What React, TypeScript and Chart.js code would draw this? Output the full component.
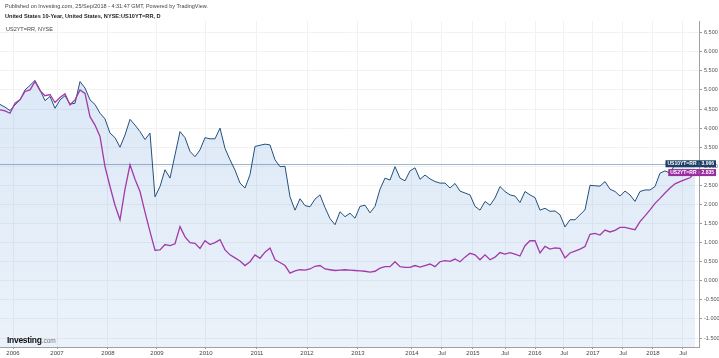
import React, { useEffect, useRef } from "react";
import { Chart, registerables } from "chart.js";

Chart.register(...registerables);

// Bar index sampling (one sample per bar step), values in percent
const us10Values = [
  4.62, 4.55, 4.46, 4.61, 4.74, 5.0, 5.12, 5.25, 5.0, 4.72,
  4.83, 4.52, 4.74, 4.85, 4.63, 4.65, 5.22, 5.05, 4.74, 4.62,
  4.39, 4.24, 3.87, 3.75, 3.5, 3.82, 4.23, 4.08, 3.91, 3.7,
  3.87, 2.2, 2.47, 2.91, 2.69, 3.3, 3.91, 3.75, 3.39, 3.25,
  3.43, 3.75, 3.72, 3.72, 4.0, 3.47, 3.17, 2.9, 2.56, 2.43,
  2.78, 3.52, 3.55, 3.58, 3.56, 3.17, 2.99, 3.0, 2.2, 1.85,
  2.15, 1.97, 1.94, 2.14, 2.25, 1.92, 1.63, 1.47, 1.81, 1.68,
  1.77, 1.64, 1.95, 1.98, 1.78, 1.95, 2.4, 2.69, 2.64, 2.99,
  2.69, 2.62, 2.88, 2.96, 2.66, 2.77, 2.67, 2.6, 2.56, 2.56,
  2.43, 2.55, 2.35, 2.3, 2.25, 1.95, 1.85, 2.08, 1.98, 2.17,
  2.47, 2.34, 2.25, 2.22, 2.05, 2.34, 2.25, 2.18, 1.85, 1.9,
  1.82, 1.83, 1.73, 1.41, 1.6, 1.6, 1.73, 1.86, 2.5, 2.49,
  2.48, 2.6, 2.4, 2.34, 2.22, 2.35, 2.25, 2.08, 2.34, 2.38,
  2.38, 2.47, 2.82, 2.88, 2.82, 3.05, 3.0, 3.03, 3.03, 3.066,
];

const us2Values = [
  4.48, 4.45, 4.39, 4.65, 4.74, 4.96, 5.0, 5.22, 4.98, 4.85,
  4.88, 4.67, 4.8, 4.9, 4.61, 4.74, 5.0, 4.91, 4.3, 4.08,
  3.78, 2.99, 2.47, 1.98, 1.6, 2.4, 3.04, 2.66, 2.34, 1.8,
  1.29, 0.8, 0.81, 0.95, 0.92, 0.97, 1.42, 1.15, 1.0, 0.98,
  0.85, 1.05, 0.95, 1.0, 1.08, 0.81, 0.68, 0.6, 0.52, 0.4,
  0.5, 0.68, 0.59, 0.75, 0.86, 0.55, 0.48, 0.4, 0.2, 0.26,
  0.29, 0.28, 0.31, 0.38, 0.4, 0.31, 0.29, 0.27, 0.28, 0.29,
  0.28, 0.27, 0.26, 0.25, 0.23, 0.25, 0.33, 0.37, 0.37, 0.5,
  0.37, 0.35, 0.35, 0.4, 0.36, 0.4, 0.44, 0.37, 0.5, 0.53,
  0.51, 0.57, 0.5, 0.62, 0.72, 0.68, 0.55, 0.68, 0.55, 0.62,
  0.74, 0.7, 0.74, 0.7, 0.65, 0.92, 1.05, 1.05, 0.73, 0.9,
  0.83, 0.86, 0.85, 0.6, 0.73, 0.78, 0.83, 0.9, 1.22, 1.24,
  1.2, 1.33, 1.28, 1.32, 1.4, 1.4, 1.37, 1.34, 1.55, 1.7,
  1.86, 2.03, 2.16, 2.3, 2.43, 2.54, 2.6, 2.65, 2.7, 2.835,
];

const xTickBars = [2.6, 11.4, 21.6, 31.4, 41.2, 51.4, 61.4, 71.6, 82.4, 88.4, 94.6, 101, 107, 112.8, 118.6, 124.6, 130.6, 136.6];
const xTickLabels = ["2006", "2007", "2008", "2009", "2010", "2011", "2012", "2013", "2014", "Jul", "2015", "Jul", "2016", "Jul", "2017", "Jul", "2018", "Jul"];
const yTickValues = [-1.5, -1, -0.5, 0, 0.5, 1, 1.5, 2, 2.5, 3, 3.5, 4, 4.5, 5, 5.5, 6, 6.5];

const US10_NAME = "US10YT=RR";
const US2_NAME = "US2YT=RR";
const US10_COLOR = "#23507d";
const US2_COLOR = "#a23aa8";

const FONT = '"Liberation Sans", Arial, sans-serif';

export default function App() {
  const canvasRef = useRef<HTMLCanvasElement | null>(null);

  useEffect(() => {
    if (!canvasRef.current) return;

    const lastLinePlugin = {
      id: "lastLine",
      beforeDatasetsDraw(chart: any) {
        const { ctx, chartArea, scales } = chart;
        const y = Math.round(scales.y.getPixelForValue(us10Values[us10Values.length - 1])) + 0.5;
        ctx.save();
        ctx.strokeStyle = "#9fb5cb";
        ctx.lineWidth = 1;
        ctx.beginPath();
        ctx.moveTo(chartArea.left, y);
        ctx.lineTo(chartArea.right, y);
        ctx.stroke();
        ctx.restore();
      },
    };

    const labelPlugin = {
      id: "lastLabels",
      afterDraw(chart: any) {
        const { ctx, scales } = chart;
        const items = [
          { name: US10_NAME, v: us10Values[us10Values.length - 1], color: "#1d3f66" },
          { name: US2_NAME, v: us2Values[us2Values.length - 1], color: "#9a2ea0" },
        ];
        ctx.save();
        ctx.font = `bold 5px ${FONT}`;
        ctx.textBaseline = "middle";
        const right = 716;
        items.forEach((it) => {
          const y = scales.y.getPixelForValue(it.v);
          const valTxt = it.v.toFixed(3);
          const nameW = ctx.measureText(it.name).width;
          const valW = ctx.measureText(valTxt).width;
          const w = nameW + valW + 9;
          const x0 = right - w;
          ctx.fillStyle = it.color;
          ctx.fillRect(x0, y - 3.5, w, 7);
          ctx.fillStyle = "#ffffff";
          ctx.textAlign = "left";
          ctx.fillText(it.name, x0 + 2, y + 0.3);
          ctx.fillText(valTxt, right - valW - 2, y + 0.3);
          ctx.strokeStyle = "rgba(255,255,255,0.6)";
          ctx.lineWidth = 0.6;
          ctx.beginPath();
          ctx.moveTo(x0 + nameW + 4.5, y - 1.5);
          ctx.lineTo(x0 + nameW + 4.5, y + 1.5);
          ctx.stroke();
        });
        ctx.restore();
      },
    };

    const chart = new Chart(canvasRef.current, {
      type: "line",
      data: {
        datasets: [
          {
            label: US2_NAME,
            data: us2Values.map((v, i) => ({ x: i, y: v })),
            borderColor: US2_COLOR,
            borderWidth: 1.3,
            pointRadius: 0,
            fill: false,
            tension: 0,
            order: 1,
          },
          {
            label: US10_NAME,
            data: us10Values.map((v, i) => ({ x: i, y: v })),
            borderColor: US10_COLOR,
            borderWidth: 1,
            pointRadius: 0,
            tension: 0,
            fill: "start",
            order: 2,
            backgroundColor: (context: any) => {
              const { ctx, chartArea } = context.chart;
              if (!chartArea) return "rgba(30,110,200,0.13)";
              const g = ctx.createLinearGradient(0, chartArea.top, 0, chartArea.bottom);
              g.addColorStop(0, "rgba(30,110,200,0.17)");
              g.addColorStop(1, "rgba(30,110,200,0.09)");
              return g;
            },
          },
        ],
      },
      options: {
        animation: false,
        responsive: false,
        devicePixelRatio: 1,
        layout: { padding: { top: 21, left: 0, right: 0, bottom: 0 } },
        plugins: {
          legend: { display: false },
          tooltip: { enabled: false },
        },
        scales: {
          x: {
            type: "linear",
            min: 0,
            max: 139.8,
            afterBuildTicks: (scale: any) => {
              scale.ticks = xTickBars.map((v) => ({ value: v }));
            },
            afterFit: (scale: any) => {
              scale.height = 11;
            },
            ticks: {
              autoSkip: false,
              maxRotation: 0,
              padding: 1,
              color: "#444",
              font: { family: FONT, size: 6 },
              callback: (_v: any, i: number) => xTickLabels[i],
            },
            grid: { color: "#f1f2f4", tickLength: 2, tickColor: "#999" },
            border: { color: "#a0a0a0" },
          },
          y: {
            type: "linear",
            position: "right",
            min: -1.734,
            max: 6.806,
            afterBuildTicks: (scale: any) => {
              scale.ticks = yTickValues.map((v) => ({ value: v }));
            },
            afterFit: (scale: any) => {
              scale.width = 20;
            },
            ticks: {
              padding: 2,
              color: "#555",
              font: { family: FONT, size: 5.5 },
              callback: (v: any) => Number(v).toFixed(3),
            },
            grid: { color: "#f2f2f2", tickLength: 3, tickColor: "#999" },
            border: { color: "#a0a0a0" },
          },
        },
      },
      plugins: [lastLinePlugin, labelPlugin],
    } as any);

    return () => chart.destroy();
  }, []);

  const txt: React.CSSProperties = {
    position: "absolute",
    whiteSpace: "nowrap",
    fontFamily: FONT,
    lineHeight: "6px",
  };

  return (
    <div style={{ position: "absolute", left: 0, top: 0, width: 719, height: 358, background: "#fff", overflow: "hidden" }}>
      <canvas ref={canvasRef} width={719} height={358} style={{ display: "block", position: "absolute", left: 0, top: 0 }} />
      <div style={{ ...txt, left: 5, top: 3, fontSize: "5.5px", color: "#444" }}>
        Published on Investing.com, 25/Sep/2018 - 4:31:47 GMT, Powered by TradingView.
      </div>
      <div style={{ ...txt, left: 5, top: 12.5, fontSize: "5.6px", fontWeight: "bold", color: "#222" }}>
        United States 10-Year, United States, NYSE:US10YT=RR, D
      </div>
      <div style={{ ...txt, left: 6, top: 26, fontSize: "5.5px", color: "#444" }}>US2YT=RR, NYSE</div>
      <div style={{ ...txt, left: 7, top: 336, lineHeight: "9px", fontSize: "8.5px", color: "#111" }}>
        <span style={{ fontWeight: "bold", letterSpacing: "-0.3px" }}>Investing</span>
        <span style={{ color: "#777", fontSize: "6.5px" }}>.com</span>
      </div>
    </div>
  );
}
